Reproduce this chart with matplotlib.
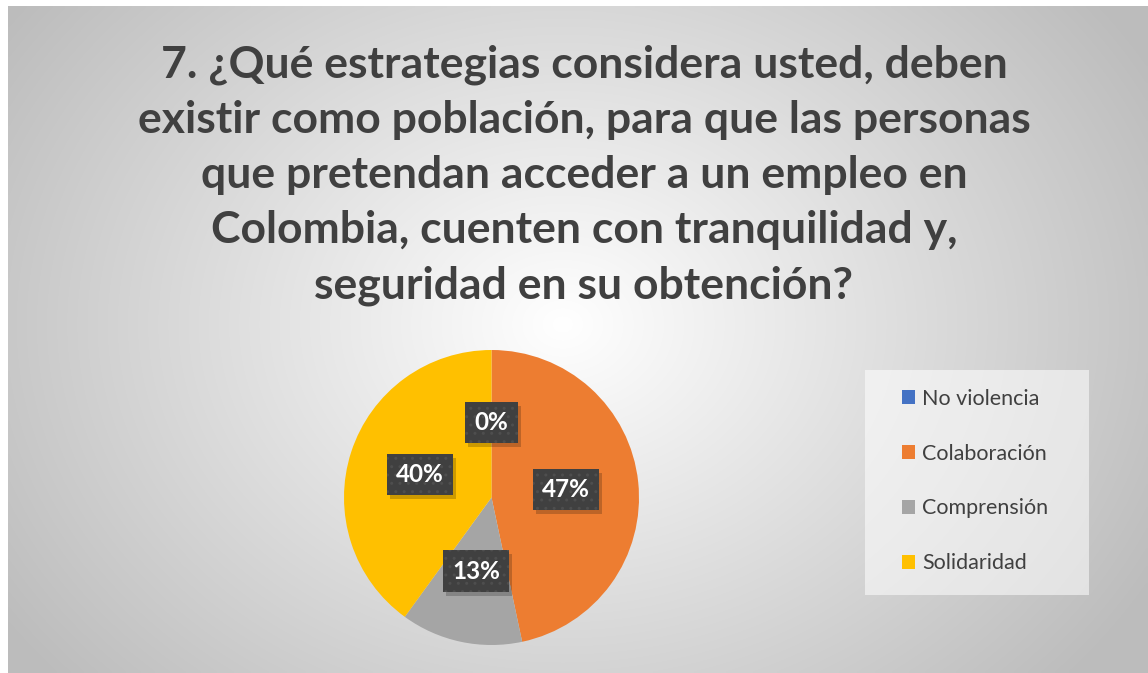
import numpy as np
import matplotlib.pyplot as plt
from matplotlib.patches import Patch, Rectangle
from matplotlib.transforms import IdentityTransform

plt.rcParams['font.family'] = ['Lato', 'DejaVu Sans']

# datos de la encuesta (respuestas)
categorias = ['No violencia', 'Colaboración', 'Comprensión', 'Solidaridad']
respuestas = [0, 7, 2, 6]
colores = ['#4472C4', '#ED7D31', '#A5A5A5', '#FFC000']
titulo = ('7. ¿Qué estrategias considera usted, deben\n'
          'existir como población, para que las personas\n'
          'que pretendan acceder a un empleo en\n'
          'Colombia, cuenten con tranquilidad y,\n'
          'seguridad en su obtención?')

W, H = 1148, 673
fig = plt.figure(figsize=(W / 100, H / 100), dpi=100)
fig.patch.set_facecolor('white')

# fondo con degradado radial
bg = fig.add_axes([8 / W, 0, 1 - 8 / W, 1 - 6 / H])
bg.set_axis_off()
yy, xx = np.mgrid[0:200, 0:340]
cx, cy = 165, 95
d = np.sqrt(((xx - cx) / 200.0) ** 2 + ((yy - cy) / 160.0) ** 2)
g = np.clip(1.0 - 0.26 * d, 0.74, 1.0)
img = np.dstack([g, g, g])
bg.imshow(img, aspect='auto', extent=[0, 1, 0, 1], interpolation='bilinear')
bg.set_xlim(0, 1)
bg.set_ylim(0, 1)

# titulo
fig.text(584 / W, 1 - 175 / H, titulo, ha='center', va='center',
         fontsize=32, fontweight='bold', color='#404040', linespacing=1.46)

# pastel
r = 147.5
cxp, cyp = 491.5, 497.5
ax = fig.add_axes([(cxp - r) / W, (H - cyp - r) / H, 2 * r / W, 2 * r / H])
ax.set_facecolor('none')
wedges, texts, autotexts = ax.pie(
    respuestas, colors=colores, startangle=90, counterclock=False,
    autopct=lambda p: '%d%%' % round(p), pctdistance=0.51,
    wedgeprops=dict(linewidth=0),
    textprops=dict(color='white', fontsize=17.5, fontweight='bold'))
for t in autotexts:
    t.set_zorder(6)
    t.set_bbox(dict(boxstyle='square,pad=0.38', facecolor='#404040',
                    edgecolor='#4e4e4e', hatch='..', linewidth=0))
ax.set_xlim(-1, 1)
ax.set_ylim(-1, 1)
ax.set_aspect('auto')

# sombra de las etiquetas (se mide la caja ya dibujada)
fig.canvas.draw()
for t in autotexts:
    bb = t.get_bbox_patch().get_window_extent()
    sombra = Rectangle((bb.x0 + 3, bb.y0 - 4), bb.width, bb.height,
                       transform=IdentityTransform(), facecolor='black',
                       alpha=0.2, edgecolor='none', zorder=5, clip_on=False)
    ax.add_artist(sombra)

# caja de la leyenda
fig.patches.append(Rectangle((865 / W, 1 - 595 / H), 224 / W, 225 / H,
                             transform=fig.transFigure, facecolor='white',
                             alpha=0.55, edgecolor='none', zorder=1))

manijas = [Patch(facecolor=c, edgecolor='none') for c in colores]
leg = fig.legend(manijas, categorias, loc='center left',
                 bbox_to_anchor=(902 / W, 1 - 481 / H),
                 fontsize=15.5, labelcolor='#404040', frameon=False,
                 handlelength=0.62, handleheight=0.62, handletextpad=0.3,
                 labelspacing=1.62, borderpad=0, borderaxespad=0)

fig.savefig('out.png', dpi=100)
